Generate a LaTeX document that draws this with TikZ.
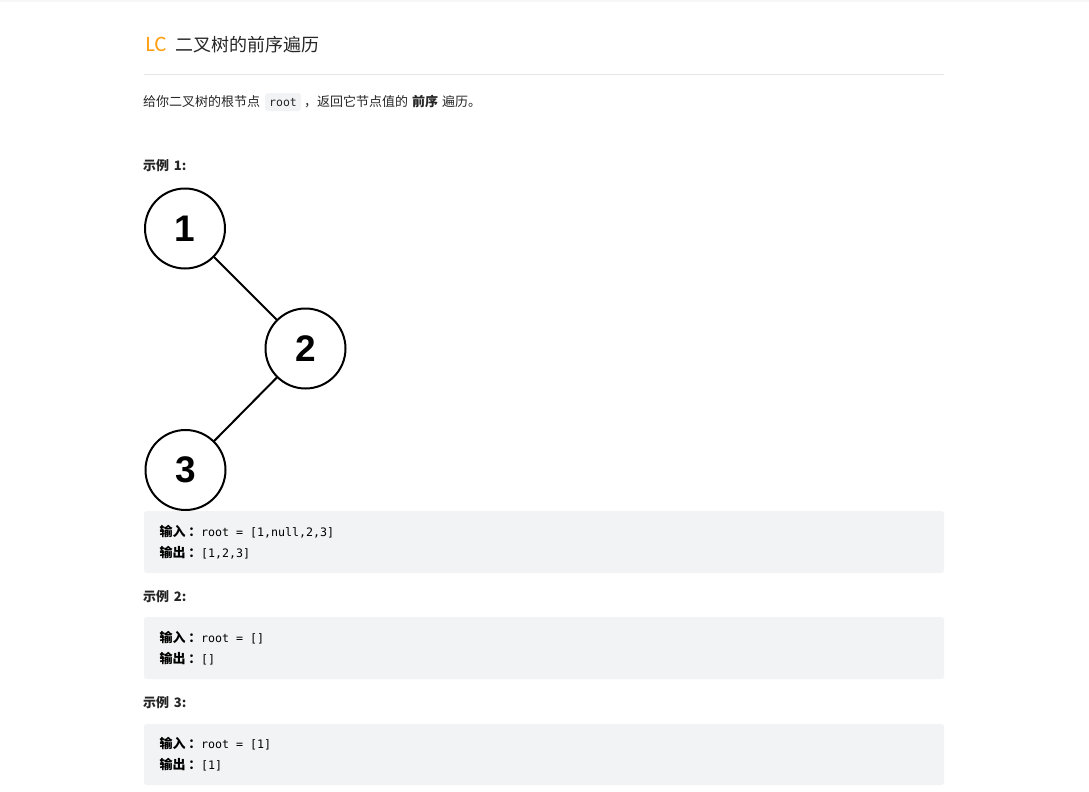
\documentclass[tikz,border=0pt]{standalone}
\usepackage{fontspec}
\setmainfont{Noto Sans CJK SC}
\newfontfamily\latinsans{Liberation Sans}
\newfontfamily\logof{Carlito}
\newfontfamily\monof{DejaVu Sans Mono}
\definecolor{panel}{HTML}{F2F3F4}
\definecolor{rulegray}{HTML}{E5E5E5}
\definecolor{ink}{HTML}{262626}
\definecolor{lcor}{HTML}{FFA116}
\tikzset{
  txt/.style={anchor=base west,inner sep=0pt,outer sep=0pt,text=ink,font=\fontsize{13}{15}\selectfont},
  headtxt/.style={txt,font=\fontsize{13}{15}\selectfont\bfseries},
  lab/.style={anchor=base west,inner sep=0pt,outer sep=0pt,text=black,font=\fontsize{13}{15}\selectfont\bfseries},
  code/.style={anchor=base west,inner sep=0pt,outer sep=0pt,text=black,font=\monof\fontsize{11.65}{14}\selectfont},
  treenode/.style={circle,draw=black,line width=2pt,minimum size=80pt,inner sep=0pt,fill=white,font=\latinsans\fontsize{37}{40}\selectfont\bfseries,text=black},
  edge/.style={draw=black,line width=2pt}
}
\begin{document}
\begin{tikzpicture}[x=1pt,y=-1pt]
\useasboundingbox (0,0) rectangle (1089,792);
\fill[white] (0,0) rectangle (1089,792);
\fill[black!3] (0,0) rectangle (1089,2);
\node[anchor=base west,inner sep=0pt,text=lcor,font=\logof\fontsize{22}{24}\selectfont] (logo) at (145.5,51.5) {LC};
\node[txt,font=\fontsize{18}{20}\selectfont] (title) at (175,52) {二叉树的前序遍历};
\draw[rulegray,line width=1pt] (144,74.5) -- (944,74.5);
\node[txt] (d1) at (143,106) {给你二叉树的根节点};
\fill[panel,rounded corners=3pt] (265,93) rectangle (301,111);
\node[anchor=base west,inner sep=0pt,text=ink,font=\monof\fontsize{11.5}{13}\selectfont] (d2) at (269,106) {root};
\node[txt] (d3) at (304,106) {，};
\node[txt] (d4) at (317,106) {返回它节点值的};
\node[headtxt] (d5) at (412,106) {前序};
\node[txt] (d6) at (442,106) {遍历。};
\node[headtxt] (h1) at (143,170) {示例\hspace{5pt}1:};
\node[headtxt] (h2) at (143,601) {示例\hspace{5pt}2:};
\node[headtxt] (h3) at (143,707) {示例\hspace{5pt}3:};
\path[edge] (185.5,228.5) -- (305.5,348.5);
\path[edge] (305.5,348.5) -- (185.5,470);
\node[treenode] (n1) at (185,228.5) {1};
\node[treenode] (n2) at (305.5,348.5) {2};
\node[treenode] (n3) at (185.5,470) {3};
\fill[panel,rounded corners=3pt] (144,511) rectangle (944,573);
\fill[panel,rounded corners=3pt] (144,617) rectangle (944,679);
\fill[panel,rounded corners=3pt] (144,724) rectangle (944,785);
\node[lab] (a1) at (159.5,536) {输入\hspace{3pt}：};
\node[code] (b1) at (201,536) {root = [1,null,2,3]};
\node[lab] (a2) at (159.5,557) {输出\hspace{3pt}：};
\node[code] (b2) at (201,557) {[1,2,3]};
\node[lab] (a3) at (159.5,642) {输入\hspace{3pt}：};
\node[code] (b3) at (201,642) {root = []};
\node[lab] (a4) at (159.5,663) {输出\hspace{3pt}：};
\node[code] (b4) at (201,663) {[]};
\node[lab] (a5) at (159.5,748) {输入\hspace{3pt}：};
\node[code] (b5) at (201,748) {root = [1]};
\node[lab] (a6) at (159.5,769) {输出\hspace{3pt}：};
\node[code] (b6) at (201,769) {[1]};
\end{tikzpicture}
\end{document}
